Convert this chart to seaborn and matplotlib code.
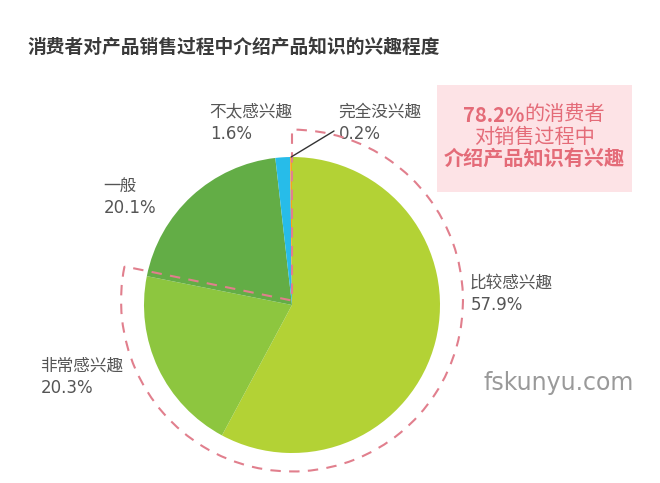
import seaborn as sns
import matplotlib.pyplot as plt
from matplotlib.patches import Wedge, Rectangle

labels = ["比较感兴趣", "非常感兴趣", "一般", "不太感兴趣", "完全没兴趣"]
shares = [57.9, 20.3, 20.1, 1.6, 0.2]
colors = ["#b3d235", "#8dc63f", "#63ad46", "#27bce9", "#f8a51b"]
interested = shares[0] + shares[1]

sns.set_theme(style="white")
plt.rcParams['font.family'] = ['Noto Sans CJK SC', 'DejaVu Sans']

W, H = 660, 483
CX, CY, R = 292, 305, 148


def px(x, y):
    # pixel position -> data units of the pie axes
    return (x - CX) / R, (CY - y) / R


fig = plt.figure(figsize=(W / 100, H / 100), dpi=100)
ax = fig.add_axes([0, 0, 1, 1])
ax.pie(shares, colors=colors, startangle=90, counterclock=False, radius=1,
       wedgeprops=dict(linewidth=0))
ax.set_xlim(-CX / R, (W - CX) / R)
ax.set_ylim(-(H - CY) / R, CY / R)
ax.set_aspect('equal')
ax.axis('off')

# dashed outline around the "interested" share
end = 90 - interested / 100 * 360
ax.add_patch(Wedge((0, 0.03), 1.155, end, 90, fill=False, edgecolor="#e17f8d",
                   linewidth=1.5, linestyle=(0, (5, 4)), zorder=5))

# slice labels
lab_pos = {
    "比较感兴趣": (470, 283),
    "非常感兴趣": (40, 366),
    "一般": (103, 186),
    "不太感兴趣": (209, 112),
    "完全没兴趣": (338, 112),
}
for name, val in zip(labels, shares):
    x, y = lab_pos[name]
    ax.text(*px(x, y), name, fontsize=12, color="#555555", ha='left', va='center')
    ax.text(*px(x + 1, y + 22), f"{val}%", fontsize=12, color="#555555",
            ha='left', va='center', family=['DejaVu Sans'])

ax.plot(*zip((-0.006, 1.0), px(334, 131)), color="#333333", linewidth=1, zorder=6)

# call-out box
bx0, by0 = px(437, 192)
bx1, by1 = px(632, 85)
ax.add_patch(Rectangle((bx0, by0), bx1 - bx0, by1 - by0, facecolor="#fde3e6",
                       edgecolor='none', zorder=1))
mid = (437 + 632) / 2
pink = "#e46b78"
ax.text(*px(524, 115), f"{interested:.1f}%", fontsize=14.5, color=pink,
        fontweight='bold', ha='right', va='center')
ax.text(*px(524, 115), "的消费者", fontsize=14.5, color=pink,
        ha='left', va='center')
ax.text(*px(mid, 137), "对销售过程中", fontsize=14.5, color=pink,
        ha='center', va='center')
ax.text(*px(mid, 158), "介绍产品知识有兴趣", fontsize=14.5, color=pink,
        fontweight='bold', ha='center', va='center')

ax.text(*px(483, 383), "fskunyu.com", fontsize=17, color="#9a9a9a",
        ha='left', va='center', family=['DejaVu Sans'])

fig.text(27 / W, 1 - 47 / H, "消费者对产品销售过程中介绍产品知识的兴趣程度",
         fontsize=13.5, fontweight='bold', color="#3a3a3a", ha='left', va='center')

fig.savefig("out.png", dpi=100)
